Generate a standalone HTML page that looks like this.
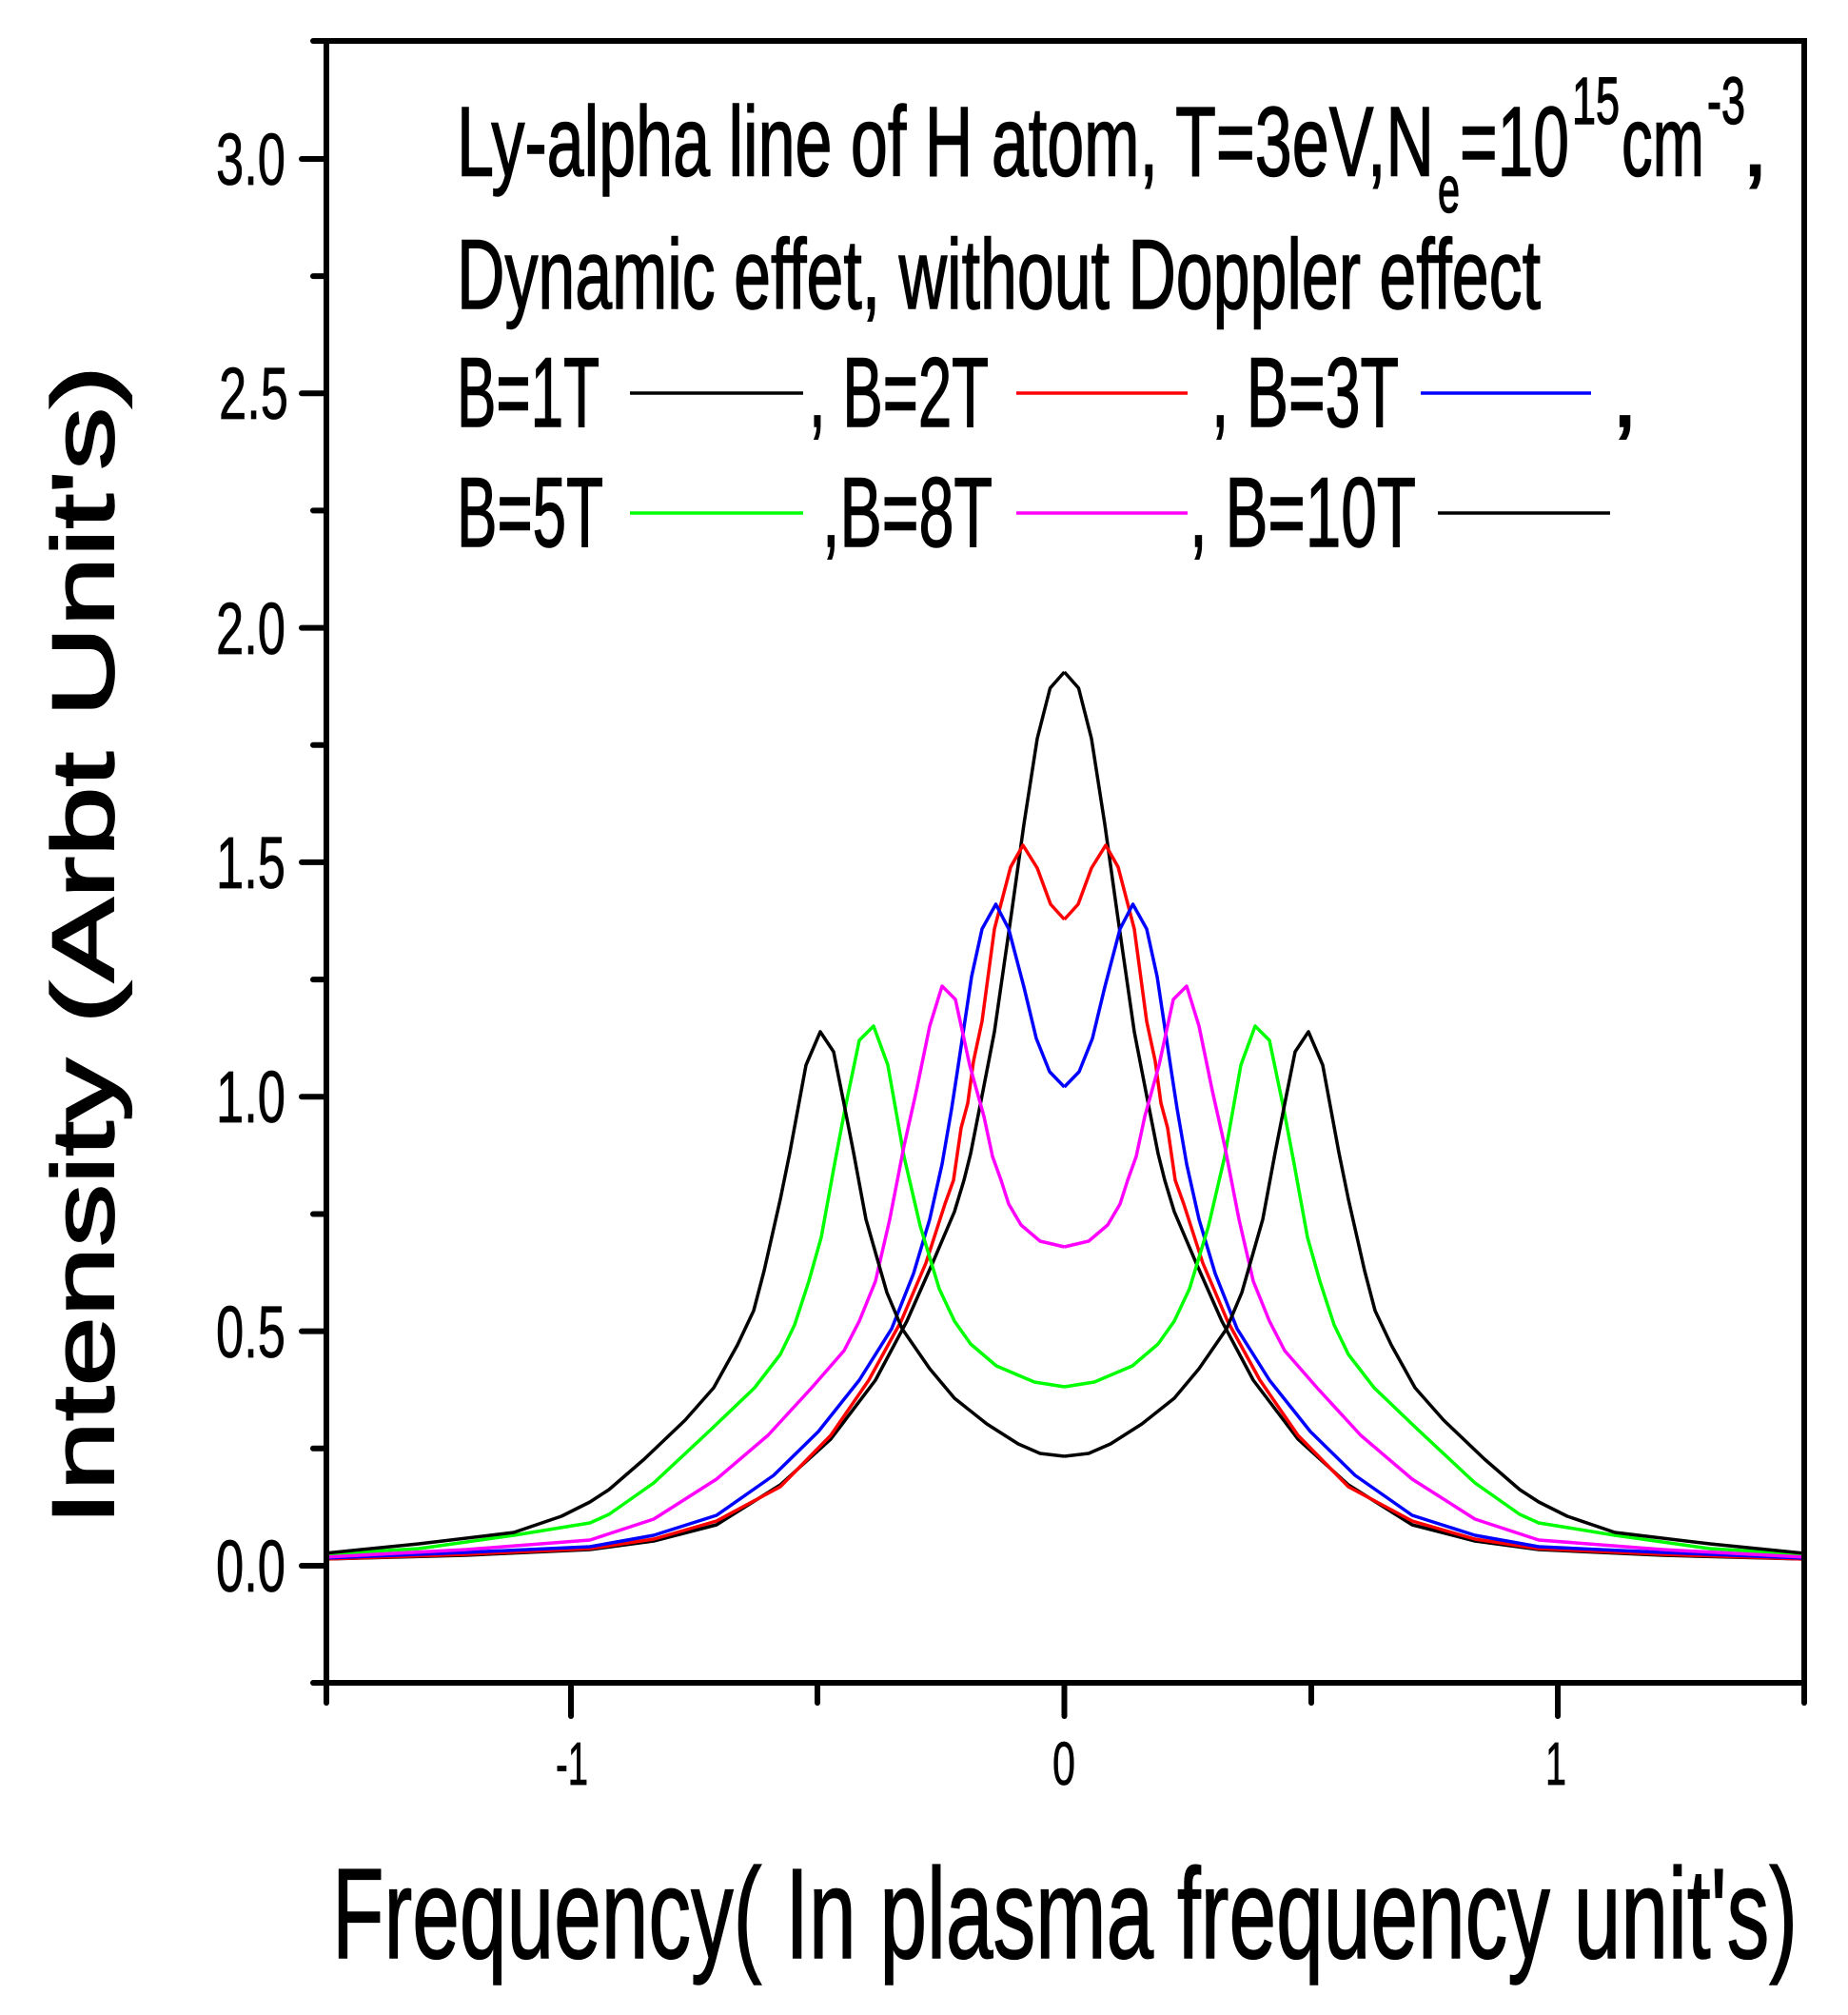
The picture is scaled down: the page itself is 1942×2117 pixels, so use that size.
<!DOCTYPE html>
<html><head><meta charset="utf-8"><style>html,body{margin:0;padding:0;background:#fff}svg{display:block}</style></head>
<body>
<svg width="1942" height="2117" viewBox="0 0 1942 2117" xmlns="http://www.w3.org/2000/svg" font-family="'Liberation Sans', Arial, sans-serif">
<defs><clipPath id="pc"><rect x="343" y="46" width="1550" height="1719"/></clipPath></defs>
<rect width="1942" height="2117" fill="#fff"/>
<g clip-path="url(#pc)" fill="none" stroke-width="3.5" stroke-linejoin="round">
<g id="L">
<polyline stroke="#000" points="340,1638 490,1634 620,1628 687,1619 753,1602 820,1560 873,1512 920,1450 953,1388 980,1327 1003,1273 1013,1240 1020,1212 1033,1146 1045,1084 1063,959 1076,866 1090,776 1103.5,723 1118.5,706"/>
<polyline stroke="#f00" points="340,1638 490,1633 620,1627 687,1617 753,1598 820,1562 873,1508 913,1450 947,1388 973,1327 993,1265 1002,1240 1010,1185 1017,1159 1023,1115 1032,1073 1045,976 1062,911 1075,888 1090,912 1104,950 1118.5,966"/>
<polyline stroke="#00f" points="340,1637 490,1631 620,1625 687,1613 753,1592 813,1550 860,1504 903,1450 937,1396 960,1338 977,1281 990,1223 1000,1165 1006,1126 1021,1026 1032,976 1046.5,950 1060,976 1076,1037 1089,1091 1103,1126 1118.5,1142"/>
<polyline stroke="#0f0" points="340,1633 440,1627 540,1613 620,1600 640,1591 687,1558 747,1502 793,1458 820,1423 835,1392 850,1346 863,1300 877,1223 888,1165 903,1093 918,1078 933,1119 950,1215 967,1288 987,1354 1003,1388 1020,1412 1047,1435 1087,1452 1118.5,1457"/>
<polyline stroke="#f0f" points="340,1636 490,1628 620,1618 687,1596 753,1554 807,1508 853,1458 887,1419 903,1388 920,1346 935,1281 950,1204 963,1146 977,1078 990,1036 1004,1050 1019,1119 1034,1173 1043,1215 1052,1240 1060,1265 1073,1287 1093,1304 1118.5,1310"/>
<polyline stroke="#000" points="340,1632 440,1622 540,1610 590,1593 620,1578 640,1565 677,1533 720,1492 750,1458 775,1413 792,1377 803,1335 820,1260 830,1211 847,1119 862,1084 876,1105 887,1160 897,1211 910,1281 932,1358 948,1396 977,1438 1003,1469 1037,1496 1070,1517 1093,1527 1118.5,1530"/>
</g>
<use href="#L" transform="translate(2237,0) scale(-1,1)"/>
</g>
<rect x="343" y="43" width="1553" height="1725" fill="none" stroke="#000" stroke-width="6"/>
<g stroke="#000" stroke-width="6" stroke-linecap="round">
<line x1="317" y1="1645" x2="343" y2="1645"/>
<line x1="317" y1="1398.6" x2="343" y2="1398.6"/>
<line x1="317" y1="1152.3" x2="343" y2="1152.3"/>
<line x1="317" y1="905.9" x2="343" y2="905.9"/>
<line x1="317" y1="659.6" x2="343" y2="659.6"/>
<line x1="317" y1="413.2" x2="343" y2="413.2"/>
<line x1="317" y1="167" x2="343" y2="167"/>
<line x1="329" y1="1768" x2="343" y2="1768"/>
<line x1="329" y1="1521.8" x2="343" y2="1521.8"/>
<line x1="329" y1="1275.5" x2="343" y2="1275.5"/>
<line x1="329" y1="1029.1" x2="343" y2="1029.1"/>
<line x1="329" y1="782.8" x2="343" y2="782.8"/>
<line x1="329" y1="536.4" x2="343" y2="536.4"/>
<line x1="329" y1="290.1" x2="343" y2="290.1"/>
<line x1="329" y1="43" x2="343" y2="43"/>
<line x1="600" y1="1768" x2="600" y2="1803"/>
<line x1="1118.5" y1="1768" x2="1118.5" y2="1803"/>
<line x1="1637" y1="1768" x2="1637" y2="1803"/>
<line x1="343" y1="1768" x2="343" y2="1789"/>
<line x1="859" y1="1768" x2="859" y2="1789"/>
<line x1="1378" y1="1768" x2="1378" y2="1789"/>
<line x1="1896" y1="1768" x2="1896" y2="1789"/>
</g>
<g font-size="77" fill="#000" stroke="#000" stroke-width="0.8">
<text x="227" y="1672" textLength="73" lengthAdjust="spacingAndGlyphs">0.0</text>
<text x="227" y="1426" textLength="73" lengthAdjust="spacingAndGlyphs">0.5</text>
<text x="227" y="1179" textLength="73" lengthAdjust="spacingAndGlyphs">1.0</text>
<text x="227" y="933" textLength="73" lengthAdjust="spacingAndGlyphs">1.5</text>
<text x="227" y="687" textLength="73" lengthAdjust="spacingAndGlyphs">2.0</text>
<text x="230" y="440" textLength="73" lengthAdjust="spacingAndGlyphs">2.5</text>
<text x="227" y="194" textLength="73" lengthAdjust="spacingAndGlyphs">3.0</text>
</g>
<g font-size="64" fill="#000" stroke="#000" stroke-width="0.8">
<text x="584" y="1875" textLength="34" lengthAdjust="spacingAndGlyphs">-1</text>
<text x="1106" y="1875" textLength="24" lengthAdjust="spacingAndGlyphs">0</text>
<text x="1624" y="1875" textLength="22" lengthAdjust="spacingAndGlyphs">1</text>
</g>
<text transform="translate(119,1603) rotate(-90)" font-size="92" stroke="#000" stroke-width="2" textLength="1219" lengthAdjust="spacingAndGlyphs">Intensity (Arbt Unit's)</text>
<text x="349" y="2057" font-size="135" stroke="#000" stroke-width="1.5" textLength="1540" lengthAdjust="spacingAndGlyphs">Frequency( In plasma frequency unit's)</text>
<g font-size="104" fill="#000" stroke="#000" stroke-width="1.5">
<text x="480" y="184.5" textLength="1027" lengthAdjust="spacingAndGlyphs">Ly-alpha line of H atom, T=3eV,N</text>
<text x="1511" y="223" font-size="70" textLength="23" lengthAdjust="spacingAndGlyphs">e</text>
<text x="1534" y="184.5" textLength="115" lengthAdjust="spacingAndGlyphs">=10</text>
<text x="1652" y="130" font-size="70" textLength="50" lengthAdjust="spacingAndGlyphs">15</text>
<text x="1704" y="184.5" textLength="87" lengthAdjust="spacingAndGlyphs">cm</text>
<text x="1794" y="130" font-size="70" textLength="40" lengthAdjust="spacingAndGlyphs">-3</text>
<text x="1830" y="184.5">,</text>
<text x="480" y="324" textLength="1139" lengthAdjust="spacingAndGlyphs">Dynamic effet, without Doppler effect</text>
<text x="480" y="448" textLength="150" lengthAdjust="spacingAndGlyphs">B=1T</text>
<text x="850" y="448" textLength="189" lengthAdjust="spacingAndGlyphs">, B=2T</text>
<text x="1273" y="448" textLength="197" lengthAdjust="spacingAndGlyphs">, B=3T</text>
<text x="1693" y="448">,</text>
<text x="480" y="574" textLength="154" lengthAdjust="spacingAndGlyphs">B=5T</text>
<text x="864" y="574" textLength="179" lengthAdjust="spacingAndGlyphs">,B=8T</text>
<text x="1250" y="574" textLength="238" lengthAdjust="spacingAndGlyphs">, B=10T</text>
</g>
<g stroke-width="3.5">
<line x1="662" y1="413" x2="844" y2="413" stroke="#000"/>
<line x1="1068" y1="413" x2="1248" y2="413" stroke="#f00"/>
<line x1="1493" y1="413" x2="1672" y2="413" stroke="#00f"/>
<line x1="662" y1="539" x2="844" y2="539" stroke="#0f0"/>
<line x1="1068" y1="539" x2="1248" y2="539" stroke="#f0f"/>
<line x1="1511" y1="539" x2="1692" y2="539" stroke="#000"/>
</g>
</svg>
</body></html>
